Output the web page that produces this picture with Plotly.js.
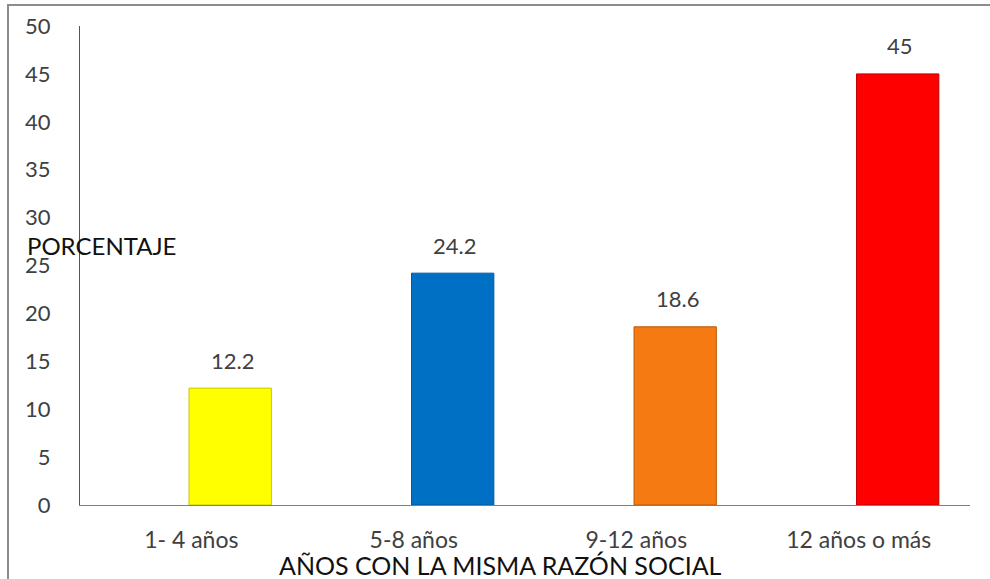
<!DOCTYPE html>
<html>
<head>
<meta charset="utf-8">
<script src="https://cdn.plot.ly/plotly-3.0.1.min.js"></script>
<style>
  html, body { margin: 0; padding: 0; background: #fff; }
  #wrap { position: relative; width: 990px; height: 579px; overflow: hidden; }
  #chart { width: 990px; height: 579px; }
  #frame { position: absolute; left: 7px; top: 4px; width: 990px; height: 600px;
           border-left: 2px solid #8c8c8c; border-top: 2px solid #8c8c8c; pointer-events: none; }
</style>
</head>
<body>
<div id="wrap">
  <div id="chart"></div>
  <div id="frame"></div>
</div>
<script>
const categories = ["1- 4 años", "5-8 años", "9-12 años", "12 años o más"];
const values = [12.2, 24.2, 18.6, 45];
const labels = ["12.2", "24.2", "18.6", "45"];
const barColors = ["#FFFF00", "#0070C4", "#F57A12", "#FF0000"];
const edgeColors = ["#C8C800", "#005A9E", "#B85A08", "#C00000"];
const yTicks = [0, 5, 10, 15, 20, 25, 30, 35, 40, 45, 50];
const xTitle = "AÑOS CON LA MISMA RAZÓN SOCIAL";
const yTitle = "PORCENTAJE";

const font = "Lato, 'Open Sans', sans-serif";

const trace = {
  type: "bar",
  x: categories,
  y: values,
  width: 0.37,
  offset: -0.01,
  marker: { color: barColors, line: { color: edgeColors, width: 1 } },
  hoverinfo: "skip"
};

const annotations = categories.map((c, i) => ({
  x: c, y: values[i], xref: "x", yref: "y",
  text: labels[i], showarrow: false,
  xshift: 41, yshift: 28, yanchor: "middle",
  font: { family: font, size: 22, color: "#404040" }
}));
annotations.push({
  xref: "paper", yref: "paper", x: (500 - 80) / 890, y: -(565 - 505) / 479,
  xanchor: "center", yanchor: "middle", text: xTitle, showarrow: false,
  font: { family: font, size: 25, color: "#111" }
});
annotations.push({
  xref: "paper", yref: "paper", x: (25 - 80) / 890, y: (505 - 245) / 479,
  xanchor: "left", yanchor: "middle", text: yTitle, showarrow: false,
  font: { family: font, size: 24, color: "#111" }
});

const layout = {
  width: 990, height: 579,
  margin: { l: 80, r: 20, t: 26, b: 74, pad: 0 },
  paper_bgcolor: "#ffffff", plot_bgcolor: "#ffffff",
  showlegend: false,
  xaxis: {
    type: "category",
    showgrid: false, zeroline: false,
    showline: true, linecolor: "#7f7f7f", linewidth: 1,
    ticks: "", ticklabelstandoff: 14,
    tickfont: { family: font, size: 23, color: "#404040" },
    fixedrange: true
  },
  yaxis: {
    range: [0, 50], tickvals: yTicks, ticktext: yTicks.map(String),
    showgrid: false, zeroline: false,
    showline: true, linecolor: "#555", linewidth: 1,
    ticks: "", ticklabelstandoff: 24,
    tickfont: { family: font, size: 22, color: "#404040" },
    fixedrange: true
  },
  annotations: annotations
};

Plotly.newPlot("chart", [trace], layout, { displayModeBar: false, staticPlot: true });
</script>
</body>
</html>
